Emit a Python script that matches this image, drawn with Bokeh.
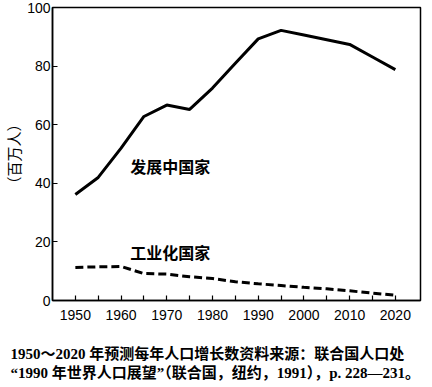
from bokeh.plotting import figure
from bokeh.models import FixedTicker, Label, Title, Range1d
from bokeh.embed import file_html
from bokeh.resources import INLINE

years = [1950, 1955, 1960, 1965, 1970, 1975, 1980, 1985, 1990, 1995, 2000, 2005, 2010, 2015, 2020]
developing = [36.2, 42.0, 52.0, 62.8, 66.7, 65.2, 72.5, 81.0, 89.3, 92.2, 90.6, 89.0, 87.4, 83.1, 78.8]
industrial = [11.3, 11.5, 11.6, 9.2, 9.0, 8.1, 7.5, 6.4, 5.7, 5.1, 4.5, 4.0, 3.3, 2.5, 1.8]
x_major = [1950, 1960, 1970, 1980, 1990, 2000, 2010, 2020]
x_minor = [1955, 1965, 1975, 1985, 1995, 2005, 2015]
y_ticks = [0, 20, 40, 60, 80, 100]
label_dev = "发展中国家"
label_ind = "工业化国家"
y_title = "（百万人）"
caption1 = "1950～2020 年预测每年人口增长数资料来源：联合国人口处"
caption2 = "“1990 年世界人口展望”（联合国，纽约，1991），p. 228—231。"

CJK = "Noto Sans CJK SC"
NUM = "Liberation Sans"
CAP = "'Liberation Serif', 'Noto Sans CJK SC'"

p = figure(width=424, height=384, output_backend="svg", toolbar_location=None,
           x_range=Range1d(1945, 2025.5), y_range=Range1d(0, 100),
           min_border_top=7, min_border_right=4, min_border_left=0, min_border_bottom=0)
p.background_fill_color = "white"
p.border_fill_color = "white"
p.outline_line_color = "black"
p.outline_line_width = 1.5
p.xgrid.visible = False
p.ygrid.visible = False

p.line(years, developing, line_color="black", line_width=3)
p.line(years, industrial, line_color="black", line_width=3, line_dash="8 4")

xa = p.xaxis[0]
xa.ticker = FixedTicker(ticks=x_major, minor_ticks=x_minor)
xa.major_tick_in = 5
xa.major_tick_out = 0
xa.minor_tick_in = 5
xa.minor_tick_out = 0
xa.axis_line_width = 1.5
xa.major_tick_line_width = 1.2
xa.minor_tick_line_width = 1.2
xa.major_label_text_font = NUM
xa.major_label_text_font_size = "14px"
xa.major_label_text_color = "black"
xa.major_label_standoff = 9

ya = p.yaxis[0]
ya.ticker = FixedTicker(ticks=y_ticks)
ya.major_tick_in = 5
ya.major_tick_out = 0
ya.minor_tick_line_color = None
ya.axis_line_width = 1.5
ya.major_tick_line_width = 1.2
ya.major_label_text_font = NUM
ya.major_label_text_font_size = "14px"
ya.major_label_text_color = "black"
ya.major_label_standoff = 2
ya.axis_label = y_title
ya.axis_label_text_font = CJK
ya.axis_label_text_font_size = "15px"
ya.axis_label_text_font_style = "normal"
ya.axis_label_text_color = "black"
ya.axis_label_standoff = 0

p.add_layout(Label(x=1962, y=46, text=label_dev, text_font=CJK, text_font_size="16px",
                   text_font_style="bold", text_color="black", text_baseline="middle"))
p.add_layout(Label(x=1962, y=16.4, text=label_ind, text_font=CJK, text_font_size="16px",
                   text_font_style="bold", text_color="black", text_baseline="middle"))

cap = Title(text="\n" + caption1 + "\n" + caption2, align="left", text_font=CAP,
            text_font_size="15px", text_font_style="bold", text_color="black",
            text_line_height=1.2, offset=-42, standoff=6)
p.add_layout(cap, "below")

open("out.html", "w").write(file_html(p, INLINE))
